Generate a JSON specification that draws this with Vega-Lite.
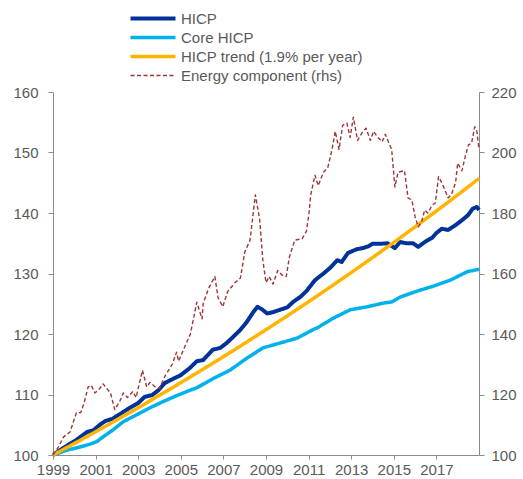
{
  "$schema": "https://vega.github.io/schema/vega-lite/v6.json",
  "width": 426,
  "height": 363,
  "autosize": {"type": "none"},
  "padding": {"left": 53, "top": 92, "right": 44, "bottom": 24},
  "background": "white",
  "config": {
    "view": {"stroke": null},
    "font": "Liberation Sans",
    "axis": {"grid": false, "domainColor": "#8c8c8c", "tickColor": "#8c8c8c", "labelColor": "#595959", "labelFontSize": 15, "tickSize": 5, "title": null},
    "legend": {"labelFontSize": 15, "labelColor": "#595959", "labelLimit": 400}
  },
  "datasets": {
    "left": [
      {"s":"HICP","t":1999.0,"v":100},{"s":"HICP","t":1999.5,"v":101.2},{"s":"HICP","t":2000.1,"v":102.5},{"s":"HICP","t":2000.6,"v":103.8},{"s":"HICP","t":2000.9,"v":104.1},{"s":"HICP","t":2001.2,"v":105},{"s":"HICP","t":2001.45,"v":105.6},{"s":"HICP","t":2001.8,"v":106},{"s":"HICP","t":2002.25,"v":107},{"s":"HICP","t":2002.6,"v":107.8},{"s":"HICP","t":2003.0,"v":108.6},{"s":"HICP","t":2003.3,"v":109.6},{"s":"HICP","t":2003.65,"v":109.9},{"s":"HICP","t":2003.95,"v":110.7},{"s":"HICP","t":2004.25,"v":111.9},{"s":"HICP","t":2004.7,"v":112.7},{"s":"HICP","t":2005.0,"v":113.2},{"s":"HICP","t":2005.43,"v":114.4},{"s":"HICP","t":2005.75,"v":115.5},{"s":"HICP","t":2006.05,"v":115.7},{"s":"HICP","t":2006.5,"v":117.4},{"s":"HICP","t":2006.85,"v":117.7},{"s":"HICP","t":2007.15,"v":118.5},{"s":"HICP","t":2007.45,"v":119.5},{"s":"HICP","t":2007.8,"v":120.7},{"s":"HICP","t":2008.1,"v":122},{"s":"HICP","t":2008.4,"v":123.6},{"s":"HICP","t":2008.6,"v":124.5},{"s":"HICP","t":2008.8,"v":124.1},{"s":"HICP","t":2009.05,"v":123.4},{"s":"HICP","t":2009.33,"v":123.6},{"s":"HICP","t":2009.65,"v":124},{"s":"HICP","t":2010.0,"v":124.4},{"s":"HICP","t":2010.27,"v":125.3},{"s":"HICP","t":2010.6,"v":126.1},{"s":"HICP","t":2010.9,"v":127.1},{"s":"HICP","t":2011.3,"v":128.9},{"s":"HICP","t":2011.7,"v":130},{"s":"HICP","t":2012.0,"v":130.9},{"s":"HICP","t":2012.35,"v":132.2},{"s":"HICP","t":2012.55,"v":131.9},{"s":"HICP","t":2012.85,"v":133.4},{"s":"HICP","t":2013.25,"v":134},{"s":"HICP","t":2013.55,"v":134.2},{"s":"HICP","t":2013.8,"v":134.5},{"s":"HICP","t":2014.0,"v":134.9},{"s":"HICP","t":2014.35,"v":134.9},{"s":"HICP","t":2014.7,"v":135},{"s":"HICP","t":2015.05,"v":134.2},{"s":"HICP","t":2015.3,"v":135.2},{"s":"HICP","t":2015.6,"v":135},{"s":"HICP","t":2015.9,"v":135},{"s":"HICP","t":2016.15,"v":134.4},{"s":"HICP","t":2016.45,"v":135.2},{"s":"HICP","t":2016.8,"v":135.9},{"s":"HICP","t":2017.0,"v":136.7},{"s":"HICP","t":2017.25,"v":137.4},{"s":"HICP","t":2017.55,"v":137.2},{"s":"HICP","t":2017.9,"v":138},{"s":"HICP","t":2018.2,"v":138.8},{"s":"HICP","t":2018.5,"v":139.7},{"s":"HICP","t":2018.7,"v":140.7},{"s":"HICP","t":2018.9,"v":141},{"s":"HICP","t":2019.0,"v":140.5},
      {"s":"Core HICP","t":1999.0,"v":100},{"s":"Core HICP","t":1999.65,"v":100.8},{"s":"Core HICP","t":2000.25,"v":101.3},{"s":"Core HICP","t":2000.75,"v":101.8},{"s":"Core HICP","t":2001.05,"v":102.2},{"s":"Core HICP","t":2001.35,"v":103},{"s":"Core HICP","t":2001.8,"v":104.1},{"s":"Core HICP","t":2002.3,"v":105.5},{"s":"Core HICP","t":2002.9,"v":106.6},{"s":"Core HICP","t":2003.55,"v":107.8},{"s":"Core HICP","t":2004.15,"v":108.8},{"s":"Core HICP","t":2004.8,"v":109.8},{"s":"Core HICP","t":2005.43,"v":110.7},{"s":"Core HICP","t":2005.75,"v":111.1},{"s":"Core HICP","t":2006.5,"v":112.6},{"s":"Core HICP","t":2007.3,"v":114},{"s":"Core HICP","t":2008.1,"v":116},{"s":"Core HICP","t":2008.85,"v":117.7},{"s":"Core HICP","t":2009.65,"v":118.5},{"s":"Core HICP","t":2010.45,"v":119.3},{"s":"Core HICP","t":2011.2,"v":120.7},{"s":"Core HICP","t":2011.45,"v":121.1},{"s":"Core HICP","t":2012.15,"v":122.6},{"s":"Core HICP","t":2012.95,"v":124},{"s":"Core HICP","t":2013.75,"v":124.5},{"s":"Core HICP","t":2014.5,"v":125.1},{"s":"Core HICP","t":2014.9,"v":125.3},{"s":"Core HICP","t":2015.3,"v":126.1},{"s":"Core HICP","t":2016.1,"v":127.1},{"s":"Core HICP","t":2016.85,"v":127.9},{"s":"Core HICP","t":2017.65,"v":128.9},{"s":"Core HICP","t":2018.45,"v":130.3},{"s":"Core HICP","t":2019.0,"v":130.7},
      {"s":"HICP trend (1.9% per year)","t":1999,"v":100},{"s":"HICP trend (1.9% per year)","t":2000,"v":101.9},{"s":"HICP trend (1.9% per year)","t":2001,"v":103.84},{"s":"HICP trend (1.9% per year)","t":2002,"v":105.81},{"s":"HICP trend (1.9% per year)","t":2003,"v":107.82},{"s":"HICP trend (1.9% per year)","t":2004,"v":109.87},{"s":"HICP trend (1.9% per year)","t":2005,"v":111.96},{"s":"HICP trend (1.9% per year)","t":2006,"v":114.08},{"s":"HICP trend (1.9% per year)","t":2007,"v":116.25},{"s":"HICP trend (1.9% per year)","t":2008,"v":118.46},{"s":"HICP trend (1.9% per year)","t":2009,"v":120.71},{"s":"HICP trend (1.9% per year)","t":2010,"v":123.0},{"s":"HICP trend (1.9% per year)","t":2011,"v":125.34},{"s":"HICP trend (1.9% per year)","t":2012,"v":127.72},{"s":"HICP trend (1.9% per year)","t":2013,"v":130.15},{"s":"HICP trend (1.9% per year)","t":2014,"v":132.62},{"s":"HICP trend (1.9% per year)","t":2015,"v":135.14},{"s":"HICP trend (1.9% per year)","t":2016,"v":137.71},{"s":"HICP trend (1.9% per year)","t":2017,"v":140.33},{"s":"HICP trend (1.9% per year)","t":2018,"v":142.99},{"s":"HICP trend (1.9% per year)","t":2019,"v":145.71}
    ],
    "energy": [
      {"s":"Energy component (rhs)","t":1999.0,"v":100},{"s":"Energy component (rhs)","t":1999.25,"v":102.6},{"s":"Energy component (rhs)","t":1999.5,"v":106},{"s":"Energy component (rhs)","t":1999.8,"v":107.6},{"s":"Energy component (rhs)","t":2000.1,"v":114},{"s":"Energy component (rhs)","t":2000.3,"v":114},{"s":"Energy component (rhs)","t":2000.45,"v":117},{"s":"Energy component (rhs)","t":2000.65,"v":122.5},{"s":"Energy component (rhs)","t":2000.8,"v":123},{"s":"Energy component (rhs)","t":2000.97,"v":120.5},{"s":"Energy component (rhs)","t":2001.2,"v":122},{"s":"Energy component (rhs)","t":2001.35,"v":123.5},{"s":"Energy component (rhs)","t":2001.7,"v":120.5},{"s":"Energy component (rhs)","t":2001.9,"v":115},{"s":"Energy component (rhs)","t":2002.15,"v":118},{"s":"Energy component (rhs)","t":2002.3,"v":120.5},{"s":"Energy component (rhs)","t":2002.5,"v":119},{"s":"Energy component (rhs)","t":2002.75,"v":121},{"s":"Energy component (rhs)","t":2002.9,"v":119},{"s":"Energy component (rhs)","t":2003.2,"v":128},{"s":"Energy component (rhs)","t":2003.4,"v":122.5},{"s":"Energy component (rhs)","t":2003.55,"v":124},{"s":"Energy component (rhs)","t":2003.8,"v":122.5},{"s":"Energy component (rhs)","t":2004.0,"v":122},{"s":"Energy component (rhs)","t":2004.25,"v":126},{"s":"Energy component (rhs)","t":2004.6,"v":130},{"s":"Energy component (rhs)","t":2004.8,"v":134},{"s":"Energy component (rhs)","t":2004.9,"v":131},{"s":"Energy component (rhs)","t":2005.2,"v":136},{"s":"Energy component (rhs)","t":2005.45,"v":140},{"s":"Energy component (rhs)","t":2005.75,"v":150.5},{"s":"Energy component (rhs)","t":2006.0,"v":145},{"s":"Energy component (rhs)","t":2006.05,"v":150},{"s":"Energy component (rhs)","t":2006.3,"v":155},{"s":"Energy component (rhs)","t":2006.6,"v":159},{"s":"Energy component (rhs)","t":2006.75,"v":152},{"s":"Energy component (rhs)","t":2006.97,"v":149},{"s":"Energy component (rhs)","t":2007.2,"v":154},{"s":"Energy component (rhs)","t":2007.55,"v":157},{"s":"Energy component (rhs)","t":2007.8,"v":158.5},{"s":"Energy component (rhs)","t":2008.0,"v":167},{"s":"Energy component (rhs)","t":2008.25,"v":171},{"s":"Energy component (rhs)","t":2008.5,"v":186},{"s":"Energy component (rhs)","t":2008.7,"v":178},{"s":"Energy component (rhs)","t":2008.85,"v":164.5},{"s":"Energy component (rhs)","t":2009.0,"v":157},{"s":"Energy component (rhs)","t":2009.15,"v":159},{"s":"Energy component (rhs)","t":2009.33,"v":156.5},{"s":"Energy component (rhs)","t":2009.55,"v":161},{"s":"Energy component (rhs)","t":2009.75,"v":159.5},{"s":"Energy component (rhs)","t":2009.95,"v":159},{"s":"Energy component (rhs)","t":2010.1,"v":165.5},{"s":"Energy component (rhs)","t":2010.35,"v":171},{"s":"Energy component (rhs)","t":2010.7,"v":171.5},{"s":"Energy component (rhs)","t":2010.9,"v":174},{"s":"Energy component (rhs)","t":2011.02,"v":180},{"s":"Energy component (rhs)","t":2011.1,"v":186},{"s":"Energy component (rhs)","t":2011.3,"v":192.5},{"s":"Energy component (rhs)","t":2011.45,"v":189},{"s":"Energy component (rhs)","t":2011.7,"v":193.5},{"s":"Energy component (rhs)","t":2011.9,"v":195},{"s":"Energy component (rhs)","t":2012.1,"v":201},{"s":"Energy component (rhs)","t":2012.25,"v":207},{"s":"Energy component (rhs)","t":2012.43,"v":201},{"s":"Energy component (rhs)","t":2012.6,"v":209},{"s":"Energy component (rhs)","t":2012.8,"v":209.7},{"s":"Energy component (rhs)","t":2012.95,"v":205},{"s":"Energy component (rhs)","t":2013.1,"v":211.7},{"s":"Energy component (rhs)","t":2013.3,"v":204},{"s":"Energy component (rhs)","t":2013.55,"v":207},{"s":"Energy component (rhs)","t":2013.7,"v":208},{"s":"Energy component (rhs)","t":2013.9,"v":204},{"s":"Energy component (rhs)","t":2014.05,"v":207},{"s":"Energy component (rhs)","t":2014.25,"v":205},{"s":"Energy component (rhs)","t":2014.45,"v":203.5},{"s":"Energy component (rhs)","t":2014.6,"v":206},{"s":"Energy component (rhs)","t":2014.75,"v":203.5},{"s":"Energy component (rhs)","t":2014.9,"v":201},{"s":"Energy component (rhs)","t":2015.05,"v":188.6},{"s":"Energy component (rhs)","t":2015.2,"v":193.5},{"s":"Energy component (rhs)","t":2015.5,"v":194},{"s":"Energy component (rhs)","t":2015.67,"v":185},{"s":"Energy component (rhs)","t":2015.85,"v":184.3},{"s":"Energy component (rhs)","t":2016.0,"v":178.7},{"s":"Energy component (rhs)","t":2016.15,"v":175.4},{"s":"Energy component (rhs)","t":2016.3,"v":177},{"s":"Energy component (rhs)","t":2016.45,"v":181},{"s":"Energy component (rhs)","t":2016.6,"v":180},{"s":"Energy component (rhs)","t":2016.8,"v":182.6},{"s":"Energy component (rhs)","t":2016.95,"v":183.3},{"s":"Energy component (rhs)","t":2017.1,"v":192},{"s":"Energy component (rhs)","t":2017.25,"v":190},{"s":"Energy component (rhs)","t":2017.4,"v":187.6},{"s":"Energy component (rhs)","t":2017.55,"v":185},{"s":"Energy component (rhs)","t":2017.7,"v":186},{"s":"Energy component (rhs)","t":2017.9,"v":190},{"s":"Energy component (rhs)","t":2018.0,"v":196.5},{"s":"Energy component (rhs)","t":2018.2,"v":194},{"s":"Energy component (rhs)","t":2018.35,"v":198.5},{"s":"Energy component (rhs)","t":2018.5,"v":202.5},{"s":"Energy component (rhs)","t":2018.65,"v":203},{"s":"Energy component (rhs)","t":2018.8,"v":208.5},{"s":"Energy component (rhs)","t":2018.9,"v":207},{"s":"Energy component (rhs)","t":2019.0,"v":201}
    ]
  },
  "encoding": {
    "x": {"field": "t", "type": "quantitative", "scale": {"domain": [1999, 2019], "nice": false, "zero": false},
      "axis": {"values": [1999, 2001, 2003, 2005, 2007, 2009, 2011, 2013, 2015, 2017], "format": "d", "tickSize": 4, "labelPadding": 3, "labelFlush": false, "labelOverlap": false}},
    "color": {"field": "s", "type": "nominal",
      "scale": {"domain": ["HICP", "Core HICP", "HICP trend (1.9% per year)", "Energy component (rhs)"], "range": ["#003299", "#00B1EA", "#FFB400", "#9E3535"]},
      "legend": {"title": null, "orient": "none", "legendX": 70, "legendY": -81, "symbolType": "M0,0H10", "symbolSize": 81, "labelOffset": 43, "rowPadding": 3}},
    "strokeDash": {"field": "s", "type": "nominal",
      "scale": {"domain": ["HICP", "Core HICP", "HICP trend (1.9% per year)", "Energy component (rhs)"], "range": [[1, 0], [1, 0], [1, 0], [4, 2.5]]},
      "legend": {"title": null, "orient": "none", "legendX": 70, "legendY": -81, "symbolType": "M0,0H10", "symbolSize": 81, "labelOffset": 43, "rowPadding": 3}},
    "strokeWidth": {"field": "s", "type": "nominal",
      "scale": {"type": "ordinal", "domain": ["HICP", "Core HICP", "HICP trend (1.9% per year)", "Energy component (rhs)"], "range": [4, 3.5, 3.5, 1.4]},
      "legend": {"title": null, "orient": "none", "legendX": 70, "legendY": -81, "symbolType": "M0,0H10", "symbolSize": 81, "labelOffset": 43, "rowPadding": 3}}
  },
  "layer": [
    {
      "data": {"name": "left"},
      "mark": {"type": "line", "strokeCap": "butt", "strokeJoin": "round"},
      "encoding": {
        "y": {"field": "v", "type": "quantitative", "scale": {"domain": [100, 160], "nice": false, "zero": false},
          "axis": {"orient": "left", "values": [100, 110, 120, 130, 140, 150, 160], "labelPadding": 10}}
      }
    },
    {
      "data": {"name": "energy"},
      "mark": {"type": "line", "strokeJoin": "round"},
      "encoding": {
        "y": {"field": "v", "type": "quantitative", "scale": {"domain": [100, 220], "nice": false, "zero": false},
          "axis": {"orient": "right", "values": [100, 120, 140, 160, 180, 200, 220], "labelPadding": 7}}
      }
    }
  ],
  "resolve": {"scale": {"y": "independent"}, "axis": {"y": "independent"}}
}
